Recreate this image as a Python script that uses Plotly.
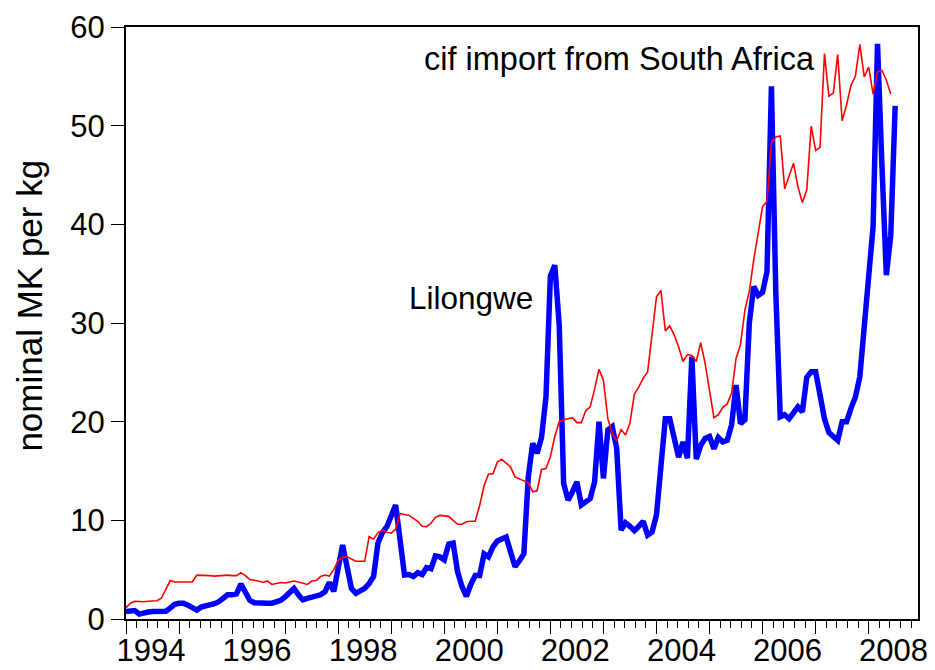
import plotly.graph_objects as go

start_year = 1994
lilongwe = [
    0.75, 0.85, 0.85, 0.5, 0.65, 0.7, 0.75, 0.77, 0.78, 0.78, 1.1, 1.5,
    1.6, 1.6, 1.4, 1.1, 0.9, 1.2, 1.3, 1.4, 1.55, 1.75, 2.1, 2.45,
    2.45, 2.55, 3.55, 2.75, 1.9, 1.65, 1.6, 1.6, 1.6, 1.6, 1.75, 1.9,
    2.25, 2.7, 3.1, 2.45, 1.95, 2.1, 2.25, 2.35, 2.45, 2.75, 3.7, 2.8,
    5.1, 7.5, 5.3, 3.1, 2.6, 2.85, 3.1, 3.6, 4.3, 7.7, 8.75, 9.35,
    10.3, 11.55, 8.0, 4.45, 4.5, 4.3, 4.7, 4.5, 5.2, 5.1, 6.4, 6.3,
    6.0, 7.6, 7.7, 4.8, 3.3, 2.3, 3.5, 4.4, 4.4, 6.6, 6.3, 7.3,
    7.9, 8.1, 8.3, 6.8, 5.3, 5.9, 6.6, 14.4, 17.8, 16.8, 18.4, 22.5,
    34.75, 35.85, 29.8, 13.75, 12.05, 12.9, 13.9, 11.55, 11.9, 12.2, 13.9, 20.0,
    14.25, 19.15, 19.5, 17.3, 9.0, 9.75, 9.4, 8.95, 9.4, 9.9, 8.5, 8.8,
    10.55, 15.45, 20.3, 20.3, 18.5, 16.4, 17.95, 16.3, 26.6, 16.2, 17.6, 18.3,
    18.5, 17.25, 18.4, 17.95, 18.1, 19.7, 23.7, 19.8, 20.2, 30.0, 33.7, 32.8,
    33.1, 35.2, 54.0, 33.0, 20.5, 20.7, 20.3, 20.9, 21.5, 21.0, 24.5, 25.05,
    25.05, 22.7, 20.3, 18.9, 18.4, 18.1, 20.0, 20.0, 21.35, 22.5, 24.55, 30.3,
    34.7, 39.75, 58.3, 46.0, 34.85, 38.9, 52.0,
]
cif_south_africa = [
    1.15, 1.6, 1.8, 1.75, 1.75, 1.8, 1.8, 1.85, 2.1, 3.0, 3.9, 3.75,
    3.75, 3.75, 3.75, 3.75, 4.45, 4.45, 4.45, 4.4, 4.35, 4.4, 4.45, 4.45,
    4.4, 4.4, 4.7, 4.4, 4.0, 3.95, 3.85, 3.7, 3.85, 3.5, 3.6, 3.7,
    3.65, 3.75, 3.85, 3.75, 3.65, 3.5, 3.85, 3.9, 4.3, 4.45, 4.35, 5.0,
    5.9, 6.3, 6.3, 6.1, 5.85, 5.85, 5.85, 8.35, 8.1, 8.75, 9.0, 8.8,
    8.7, 9.1, 10.7, 10.6, 10.5, 10.2, 9.9, 9.4, 9.35, 9.7, 10.3, 10.5,
    10.45, 10.4, 10.0, 9.6, 9.6, 9.85, 9.9, 9.9, 11.5, 13.5, 14.7, 14.7,
    15.9, 16.2, 15.8, 15.4, 14.4, 14.2, 14.0, 13.8, 12.9, 13.0, 15.15, 15.25,
    16.45, 18.5, 20.0, 20.2, 20.3, 20.4, 19.9, 19.9, 21.1, 21.5, 23.3, 25.3,
    24.2, 20.3, 18.8, 18.05, 19.2, 18.65, 19.85, 22.8, 23.5, 24.4, 25.05, 28.95,
    32.65, 33.3, 29.2, 29.7, 28.8, 27.6, 26.1, 26.8, 26.7, 26.1, 28.0, 25.9,
    22.9, 20.4, 20.7, 21.45, 21.8, 22.9, 26.4, 27.8, 31.3, 33.2, 36.4, 39.1,
    41.8, 42.3, 48.3, 48.85, 48.95, 43.6, 44.8, 46.2, 43.8, 42.2, 43.5, 49.95,
    47.5, 47.8, 57.3, 53.0, 53.3, 57.2, 50.5, 52.1, 54.1, 55.0, 58.25, 54.95,
    55.95, 53.2, 55.45, 55.6, 54.6, 53.2,
]
year_ticks = list(range(1994, 2009))
label_years = list(range(1994, 2009, 2))
y_ticks = [0, 10, 20, 30, 40, 50, 60]

x_blue = [start_year + i / 12 for i in range(len(lilongwe))]
x_red = [start_year + i / 12 for i in range(len(cif_south_africa))]

FONT = "Liberation Sans, Arial, sans-serif"
xr = [1994, 2008.93]

fig = go.Figure()
fig.add_trace(go.Scatter(x=x_blue, y=lilongwe, mode="lines", name="Lilongwe",
                         line=dict(color="#0000FF", width=5.5), showlegend=False))
fig.add_trace(go.Scatter(x=x_red, y=cif_south_africa, mode="lines",
                         name="cif import from South Africa",
                         line=dict(color="#FF0000", width=1.6), showlegend=False))
# carrier trace so the label axis is drawn
fig.add_trace(go.Scatter(x=xr, y=[None, None], xaxis="x2", mode="lines",
                         showlegend=False, hoverinfo="skip"))

fig.update_layout(
    width=935, height=670,
    margin=dict(l=118, r=25, t=19, b=59, autoexpand=False),
    paper_bgcolor="white", plot_bgcolor="white",
    font=dict(family=FONT, size=31, color="black"),
    xaxis=dict(range=xr, tickvals=year_ticks, showticklabels=False,
               ticks="outside", ticklen=13, tickwidth=1, tickcolor="black",
               minor=dict(dtick=0.2, tick0=1994, ticks="outside", ticklen=7,
                          tickwidth=1, tickcolor="black", showgrid=False),
               showline=True, linewidth=2, linecolor="black", mirror=True,
               showgrid=False, zeroline=False, automargin=False),
    xaxis2=dict(range=xr, overlaying="x", anchor="y", side="bottom",
                tickvals=[y + 0.47 for y in label_years],
                ticktext=[str(y) for y in label_years],
                ticks="outside", ticklen=4, tickcolor="rgba(0,0,0,0)",
                tickfont=dict(size=31, color="black", family=FONT),
                showline=False, showgrid=False, zeroline=False,
                automargin=False),
    yaxis=dict(range=[0, 60], tickvals=y_ticks, ticks="outside", ticklen=13,
               tickwidth=1, tickcolor="black",
               tickfont=dict(size=31, color="black", family=FONT),
               showline=True, linewidth=2, linecolor="black", mirror=True,
               showgrid=False, zeroline=False, automargin=False),
)
fig.add_annotation(x=1999.58, y=56.8, text="cif import from South Africa",
                   showarrow=False, xanchor="left", yanchor="middle",
                   font=dict(size=32.5, color="black", family=FONT))
fig.add_annotation(x=1999.3, y=32.5, text="Lilongwe",
                   showarrow=False, xanchor="left", yanchor="middle",
                   font=dict(size=31.5, color="black", family=FONT))
fig.add_annotation(xref="paper", yref="paper", x=-0.122, y=0.53,
                   text="nominal MK per kg", textangle=-90, showarrow=False,
                   xanchor="center", yanchor="middle",
                   font=dict(size=35, color="black", family=FONT))
fig.write_html("out.html")
